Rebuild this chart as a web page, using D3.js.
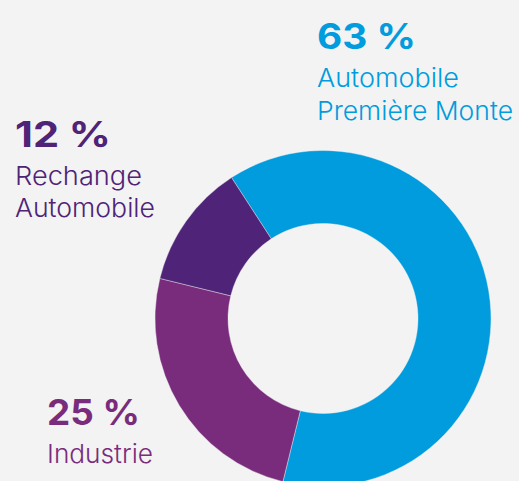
<!DOCTYPE html>
<html>
<head>
<meta charset="utf-8">
<script src="https://cdn.jsdelivr.net/npm/d3@7/dist/d3.min.js"></script>
<style>
html,body{margin:0;padding:0;background:#f3f3f3;}
svg{display:block;}
</style>
</head>
<body>
<svg id="chart" width="519" height="481"></svg>
<script>
// Data
const categories = ["Automobile Première Monte", "Industrie", "Rechange Automobile"];
const values = [63, 25, 12];
const percentLabels = ["63 %", "25 %", "12 %"];
const labelLines = [["Automobile", "Première Monte"], ["Industrie"], ["Rechange", "Automobile"]];
const colors = ["#009cde", "#7a2c7c", "#4e2378"];

const svg = d3.select("#chart");
svg.append("rect").attr("width", 519).attr("height", 481).attr("fill", "#f3f3f3");

const cx = 323, cy = 318.5, rOuter = 168, rInner = 95;
const pie = d3.pie().sort(null).value(d => d)
  .startAngle(-33 * Math.PI / 180).endAngle(327 * Math.PI / 180);
const arc = d3.arc().innerRadius(rInner).outerRadius(rOuter);

svg.append("g").attr("transform", `translate(${cx},${cy})`)
  .selectAll("path").data(pie(values)).join("path")
  .attr("d", arc)
  .attr("fill", (d, i) => colors[i])
  .attr("stroke", "#f3f3f3").attr("stroke-width", 0.4);

// Label layout (positions only)
const layout = [
  { x: 317, y: 48.5, w: 99, lines: [{ y: 86.5, w: 142 }, { y: 119.5, w: 196 }] },
  { x: 47, y: 425, w: 93, lines: [{ y: 463, w: 106 }] },
  { x: 15, y: 146.5, w: 96, lines: [{ y: 185, w: 127 }, { y: 217, w: 140 }] }
];

const font = "Inter, 'Liberation Sans', Arial, sans-serif";
categories.forEach((c, i) => {
  const L = layout[i];
  const g = svg.append("g").attr("class", "label");
  g.append("text")
    .attr("x", L.x).attr("y", L.y)
    .attr("font-family", font).attr("font-weight", 700).attr("font-size", 35)
    .attr("fill", colors[i])
    .attr("textLength", L.w).attr("lengthAdjust", "spacingAndGlyphs")
    .text(percentLabels[i]);
  labelLines[i].forEach((t, j) => {
    g.append("text")
      .attr("x", L.x).attr("y", L.lines[j].y)
      .attr("font-family", font).attr("font-weight", 300).attr("font-size", 26)
      .attr("fill", colors[i])
      .attr("textLength", L.lines[j].w).attr("lengthAdjust", "spacingAndGlyphs")
      .text(t);
  });
});
</script>
</body>
</html>
